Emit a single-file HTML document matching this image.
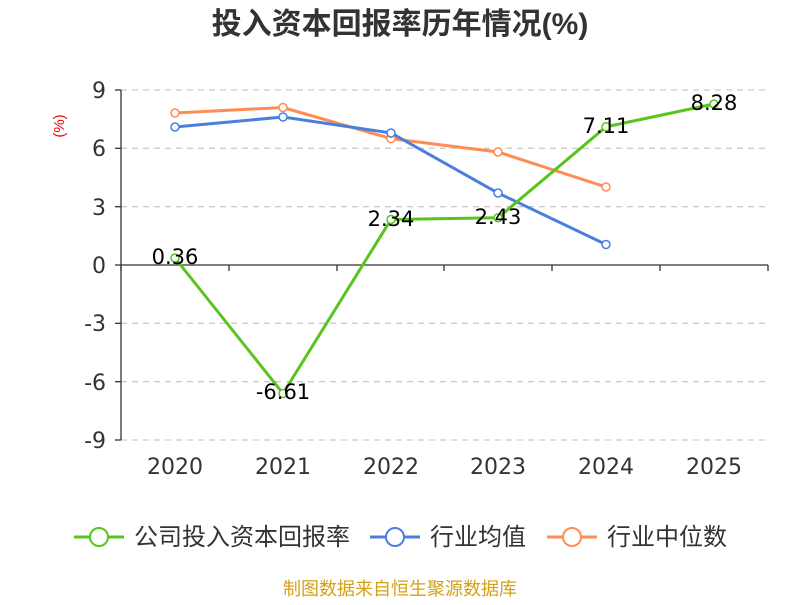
<!DOCTYPE html>
<html><head><meta charset="utf-8"><style>
body{margin:0;background:#fff;}
svg text{font-family:"Liberation Sans","Noto Sans CJK SC",sans-serif;}
svg .n{font-family:"DejaVu Sans","Liberation Sans",sans-serif;}
</style></head><body>
<svg width="800" height="600" viewBox="0 0 800 600" xmlns="http://www.w3.org/2000/svg">
<rect width="800" height="600" fill="#fff"/>
<text x="400" y="34" text-anchor="middle" font-size="30" font-weight="bold" fill="#333">投入资本回报率历年情况(%)</text>
<text x="64" y="126" font-size="15" fill="#e00" text-anchor="middle" transform="rotate(-90 64 126)">(%)</text>
<g stroke="#ccc" stroke-dasharray="6,5" stroke-width="1.3">
<line x1="121" y1="90" x2="768" y2="90"/><line x1="121" y1="148.3" x2="768" y2="148.3"/><line x1="121" y1="206.7" x2="768" y2="206.7"/>
<line x1="121" y1="323.3" x2="768" y2="323.3"/><line x1="121" y1="381.7" x2="768" y2="381.7"/><line x1="121" y1="440" x2="768" y2="440"/>
</g>
<g stroke="#333" stroke-width="1.3">
<line x1="121" y1="90" x2="121" y2="440"/>
<line x1="115" y1="90" x2="121" y2="90"/><line x1="115" y1="148.3" x2="121" y2="148.3"/><line x1="115" y1="206.7" x2="121" y2="206.7"/><line x1="115" y1="265" x2="121" y2="265"/><line x1="115" y1="323.3" x2="121" y2="323.3"/><line x1="115" y1="381.7" x2="121" y2="381.7"/><line x1="115" y1="440" x2="121" y2="440"/>
<line x1="121" y1="265" x2="768" y2="265"/>
<line x1="121" y1="265" x2="121" y2="271"/><line x1="229" y1="265" x2="229" y2="271"/><line x1="337" y1="265" x2="337" y2="271"/><line x1="444" y1="265" x2="444" y2="271"/><line x1="552" y1="265" x2="552" y2="271"/><line x1="660" y1="265" x2="660" y2="271"/><line x1="768" y1="265" x2="768" y2="271"/>
</g>
<g class="n" font-size="22" fill="#333" text-anchor="end">
<text class="n" x="106" y="98">9</text><text class="n" x="106" y="156">6</text><text class="n" x="106" y="215">3</text><text class="n" x="106" y="273">0</text><text class="n" x="106" y="331">-3</text><text class="n" x="106" y="390">-6</text><text class="n" x="106" y="448">-9</text>
</g>
<g font-size="22" fill="#333" text-anchor="middle">
<text class="n" x="175" y="474">2020</text><text class="n" x="283" y="474">2021</text><text class="n" x="391" y="474">2022</text><text class="n" x="498" y="474">2023</text><text class="n" x="606" y="474">2024</text><text class="n" x="714" y="474">2025</text>
</g>
<polyline fill="none" stroke="#ff8c55" stroke-width="3" points="175,113 283,107.5 391,138.6 498,152 606,187"/>
<polyline fill="none" stroke="#4a7fe0" stroke-width="3" points="175,127 283,117 391,133 498,193 606,244.5"/>
<polyline fill="none" stroke="#5ac41e" stroke-width="3" points="175,258 283,393.5 391,219.5 498,217.8 606,126.8 714,104"/>
<g fill="#fff" stroke-width="1.5">
<g stroke="#ff8c55"><circle cx="175" cy="113" r="4"/><circle cx="283" cy="107.5" r="4"/><circle cx="391" cy="138.6" r="4"/><circle cx="498" cy="152" r="4"/><circle cx="606" cy="187" r="4"/></g>
<g stroke="#4a7fe0"><circle cx="175" cy="127" r="4"/><circle cx="283" cy="117" r="4"/><circle cx="391" cy="133" r="4"/><circle cx="498" cy="193" r="4"/><circle cx="606" cy="244.5" r="4"/></g>
<g stroke="#5ac41e"><circle cx="175" cy="258" r="4"/><circle cx="283" cy="393.5" r="4"/><circle cx="391" cy="219.5" r="4"/><circle cx="498" cy="217.8" r="4"/><circle cx="606" cy="126.8" r="4"/><circle cx="714" cy="104" r="4"/></g>
</g>
<g font-size="21" fill="#000" text-anchor="middle">
<text class="n" x="175" y="264">0.36</text><text class="n" x="283" y="399">-6.61</text><text class="n" x="391" y="226">2.34</text><text class="n" x="498" y="224">2.43</text><text class="n" x="606" y="133">7.11</text><text class="n" x="714" y="110">8.28</text>
</g>
<g font-size="24" fill="#333">
<line x1="74" y1="537" x2="124" y2="537" stroke="#5ac41e" stroke-width="3"/><circle cx="99" cy="537" r="9" fill="#fff" stroke="#5ac41e" stroke-width="2"/>
<text x="134" y="545">公司投入资本回报率</text>
<line x1="370" y1="537" x2="420" y2="537" stroke="#4a7fe0" stroke-width="3"/><circle cx="395" cy="537" r="9" fill="#fff" stroke="#4a7fe0" stroke-width="2"/>
<text x="430" y="545">行业均值</text>
<line x1="547" y1="537" x2="597" y2="537" stroke="#ff8c55" stroke-width="3"/><circle cx="572" cy="537" r="9" fill="#fff" stroke="#ff8c55" stroke-width="2"/>
<text x="607" y="545">行业中位数</text>
</g>
<text x="400" y="595" font-size="18" fill="#d4a017" text-anchor="middle">制图数据来自恒生聚源数据库</text>
</svg>
</body></html>
